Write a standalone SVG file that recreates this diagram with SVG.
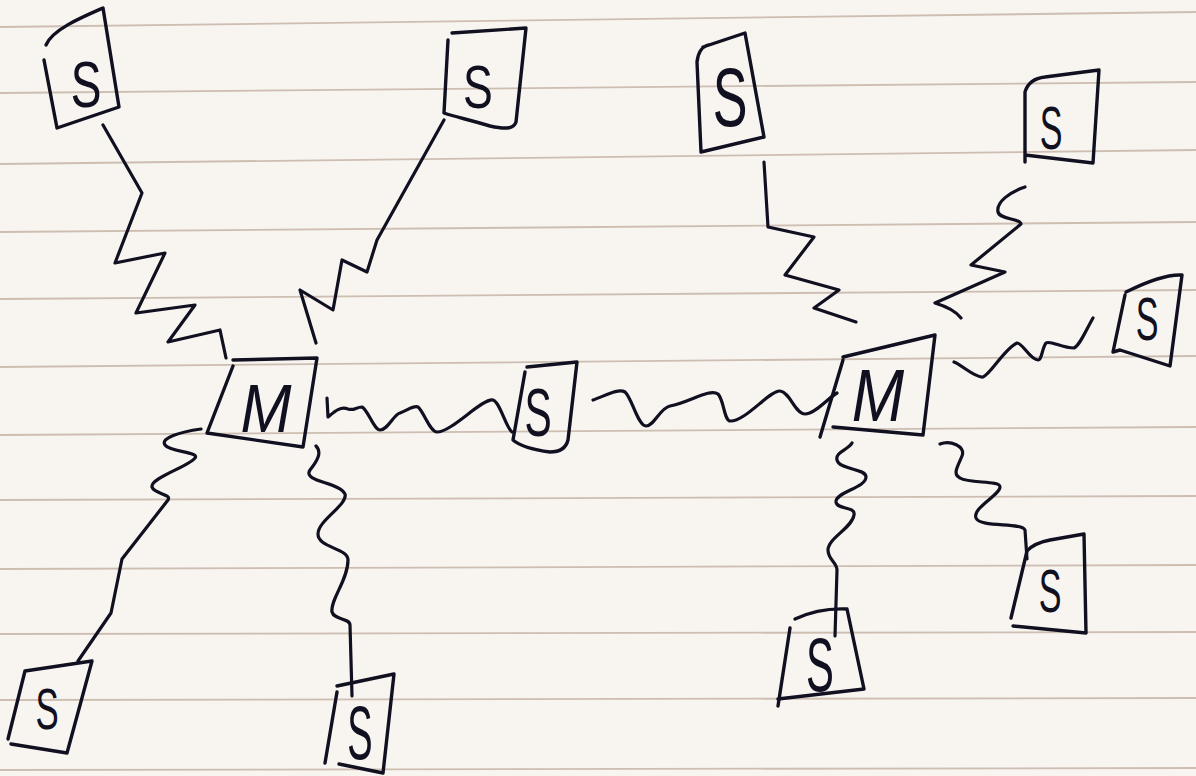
<svg xmlns="http://www.w3.org/2000/svg" width="1196" height="776" viewBox="0 0 1196 776">
  <style>
    .ink { fill: none; stroke: #101020; stroke-width: 3.2; stroke-linejoin: round; stroke-linecap: round; }
    .box { fill: none; stroke: #101020; stroke-width: 3.4; stroke-linejoin: round; stroke-linecap: round; }
    .rule { stroke: #bba797; stroke-width: 1.8; opacity: 0.7; }
    .lbl { font-family: "Liberation Sans", "DejaVu Sans", sans-serif; fill: #101020; text-anchor: middle; }
    .m { font-style: italic; }
  </style>
  <rect x="0" y="0" width="1196" height="776" fill="#f8f5f1"/>
  <g id="paper-rules">
    <line class="rule" x1="0" y1="27" x2="1196" y2="12"/>
    <line class="rule" x1="0" y1="93" x2="1196" y2="82"/>
    <line class="rule" x1="0" y1="164" x2="1196" y2="150"/>
    <line class="rule" x1="0" y1="232" x2="1196" y2="222"/>
    <line class="rule" x1="0" y1="299" x2="1196" y2="290"/>
    <line class="rule" x1="0" y1="367" x2="1196" y2="356"/>
    <line class="rule" x1="0" y1="435" x2="1196" y2="427"/>
    <line class="rule" x1="0" y1="500" x2="1196" y2="496"/>
    <line class="rule" x1="0" y1="569" x2="1196" y2="565"/>
    <line class="rule" x1="0" y1="634" x2="1196" y2="632"/>
    <line class="rule" x1="0" y1="700" x2="1196" y2="698"/>
    <line class="rule" x1="0" y1="770" x2="1196" y2="768"/>
  </g>

  <g id="connectors">
    <path class="ink" d="M103,125 L142,193 L115,263 L165,253 L136,313 L195,305 L168,342 L220,330 L226,358"/>
    <path class="ink" d="M444,120 L377,240 L367,272 L342,260 L333,310 L300,290 L316,343"/>
    <path class="ink" d="M764,162 L768,227 L814,237 L785,275 L839,290 L814,308 L856,322"/>
    <path class="ink" d="M1025,187 C1010,192 996,202 998,212 C1000,220 1020,218 1021,224 L971,265 L1005,272 L935,303 C945,306 955,310 961,318"/>
    <path class="ink" d="M1093,318 C1085,332 1080,345 1074,348 C1062,348 1050,340 1046,343 C1042,348 1042,360 1038,360 C1030,360 1022,342 1017,343 C1005,348 990,375 983,377 C975,378 962,365 954,362"/>
    <path class="ink" d="M327,398 L328,417 C334,412 340,406 348,409 C354,411 356,407 362,407 C368,410 374,430 380,430 C388,430 394,414 400,413 C408,410 414,405 418,407 C424,412 430,432 437,432 C452,432 482,398 493,400 C500,402 506,428 512,432"/>
    <path class="ink" d="M593,400 C605,396 618,388 625,392 C632,398 638,426 646,426 C654,426 660,408 670,406 C690,402 710,388 718,394 C724,400 724,420 730,421 C745,422 770,390 780,391 C790,392 795,414 805,414 C815,414 828,398 837,393"/>
    <path class="ink" d="M201,429 C180,432 160,438 165,445 C170,452 200,452 195,458 C190,466 150,478 152,487 C154,494 172,494 168,500 L122,559 L111,613 L78,661"/>
    <path class="ink" d="M316,446 C322,452 318,460 310,470 C302,482 340,482 345,494 C348,505 318,520 318,534 C318,548 348,548 348,560 C348,580 330,600 332,612 C334,620 350,618 350,625 L352,696"/>
    <path class="ink" d="M852,443 C848,450 835,452 837,460 C839,470 866,468 866,477 C866,488 835,492 836,502 C837,510 856,506 854,515 C852,528 828,538 828,550 C828,560 837,562 837,570 L835,636"/>
    <path class="ink" d="M940,444 C950,440 966,446 962,456 C958,466 952,474 960,478 C970,484 1000,480 1000,487 C1000,495 972,508 976,518 C980,528 1022,522 1025,530 L1027,559"/>
  </g>

  <g id="s1">
    <path class="box" d="M46,45 C52,30 80,18 103,8 L119,107 L57,128 L44,60"/>
    <text class="lbl" transform="translate(86,84) scale(0.72,1)" y="23" font-size="64">S</text>
  </g>
  <g id="s2">
    <path class="box" d="M452,33 L526,28 L516,122 C514,128 508,130 490,126 C470,120 452,116 444,113 L448,40"/>
    <text class="lbl" transform="translate(478,86) scale(0.72,1)" y="22" font-size="62">S</text>
  </g>
  <g id="s3">
    <path class="box" d="M703,47 L745,33 L764,137 L701,152 L697,62 C698,52 702,47 708,45"/>
    <text class="lbl" transform="translate(730,96) scale(0.62,1)" y="30" font-size="84">S</text>
  </g>
  <g id="s4">
    <path class="box" d="M1025,162 L1025,92 C1028,82 1035,78 1045,77 L1099,70 L1093,163 L1025,155"/>
    <text class="lbl" transform="translate(1051,127) scale(0.55,1)" y="22" font-size="62">S</text>
  </g>
  <g id="s5">
    <path class="box" d="M1126,292 C1140,285 1165,274 1182,275 L1170,366 L1120,350 L1113,352 L1125,295"/>
    <text class="lbl" transform="translate(1147,318) scale(0.55,1)" y="22" font-size="62">S</text>
  </g>
  <g id="m1">
    <path class="box" d="M233,360 L317,358 L303,447 L207,433 L233,366"/>
    <text class="lbl m" transform="translate(266,408) scale(0.9,1)" y="24" font-size="68">M</text>
  </g>
  <g id="s-center">
    <path class="box" d="M527,367 L577,362 L568,440 C566,448 560,452 550,452 C535,450 520,446 513,440 L525,372"/>
    <text class="lbl" transform="translate(538,412) scale(0.6,1)" y="24" font-size="68">S</text>
  </g>
  <g id="m2">
    <path class="box" d="M843,357 L935,335 L923,435 L833,427 M843,360 L820,437"/>
    <text class="lbl m" transform="translate(878,395) scale(0.85,1)" y="26" font-size="74">M</text>
  </g>
  <g id="s9">
    <path class="box" d="M25,671 L92,661 L67,753 L11,744 M25,671 L8,739"/>
    <text class="lbl" transform="translate(47,708) scale(0.6,1)" y="21" font-size="58">S</text>
  </g>
  <g id="s10">
    <path class="box" d="M337,686 L394,674 L383,773 L339,764 M337,692 L325,763"/>
    <text class="lbl" transform="translate(360,732) scale(0.5,1)" y="27" font-size="76">S</text>
  </g>
  <g id="s11">
    <path class="box" d="M795,619 C810,612 825,608 847,609 L864,689 L778,699 M790,628 L778,706"/>
    <text class="lbl" transform="translate(820,664) scale(0.55,1)" y="27" font-size="76">S</text>
  </g>
  <g id="s12">
    <path class="box" d="M1027,551 C1032,545 1040,542 1050,540 L1084,534 L1086,633 L1013,626 M1027,551 L1011,618"/>
    <text class="lbl" transform="translate(1050,590) scale(0.55,1)" y="22" font-size="62">S</text>
  </g>
</svg>
